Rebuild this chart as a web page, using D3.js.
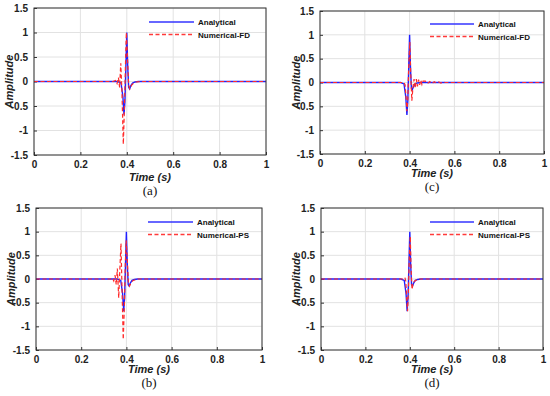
<!DOCTYPE html>
<html>
<head>
<meta charset="utf-8">
<script src="https://cdn.jsdelivr.net/npm/d3@7"></script>
<style>
  body { margin: 0; background: #fff; }
  svg { display: block; }
</style>
</head>
<body>
<svg id="chart"></svg>
<script>
const width = 550
const height = 396

// tick values
const xTicks = [0, 0.2, 0.4, 0.6, 0.8, 1]
const xTickLabels = ['0', '0.2', '0.4', '0.6', '0.8', '1']
const yTicks = [-1.5, -1, -0.5, 0, 0.5, 1, 1.5]
const yTickLabels = ['-1.5', '-1', '-0.5', '0', '0.5', '1', '1.5']

// analytical wavelet (same in all panels)
const tAna = [0, 0.36, 0.375, 0.383, 0.388, 0.392, 0.396, 0.400, 0.404, 0.408, 0.412, 0.418, 0.425, 0.435, 0.45, 1]
const vAna = [0, 0, -0.03, -0.3, -0.68, -0.4, 0.3, 1.0, 0.3, -0.12, -0.15, -0.08, -0.03, -0.01, 0, 0]

// numerical FD, coarse grid (a)
const tFDa = [0, 0.34, 0.352, 0.358, 0.364, 0.369, 0.374, 0.379, 0.385, 0.390, 0.394, 0.398, 0.403, 0.408, 0.413, 0.42, 0.43, 0.44, 0.46, 1]
const vFDa = [0, 0, 0.02, -0.04, 0.08, -0.12, 0.37, -0.2, -1.28, -0.5, 0.3, 1.0, 0.5, -0.08, -0.15, -0.08, -0.03, -0.01, 0, 0]

// numerical PS, coarse grid (b)
const tPSb = [0, 0.33, 0.338, 0.344, 0.35, 0.355, 0.36, 0.366, 0.371, 0.376, 0.381, 0.386, 0.391, 0.395, 0.399, 0.404, 0.409, 0.414, 0.42, 0.43, 0.45, 1]
const vPSb = [0, 0, 0.02, -0.04, 0.08, -0.12, 0.22, -0.4, 0.2, 0.75, -0.3, -1.28, -0.6, 0.3, 0.82, 0.4, -0.1, -0.15, -0.08, -0.03, 0, 0]

// numerical FD, fine grid (c)
const tFDc = [0, 0.375, 0.38, 0.384, 0.388, 0.392, 0.396, 0.401, 0.405, 0.41, 0.415, 0.42, 0.425, 0.43, 0.435, 0.44, 0.445, 0.45, 0.455, 0.46, 0.47, 0.48, 0.49, 0.5, 0.51, 0.52, 0.53, 0.54, 0.55, 0.56, 0.58, 1]
const vFDc = [0, 0, -0.05, -0.3, -0.6, -0.35, 0.3, 0.85, 0.2, -0.38, -0.1, 0.07, -0.12, 0.07, -0.08, 0.06, -0.05, 0.05, -0.04, 0.03, 0.03, -0.02, 0.02, -0.02, 0.015, -0.01, 0.01, -0.01, 0.01, 0, 0, 0]

// numerical PS, fine grid (d)
const tPSd = [0, 0.37, 0.378, 0.382, 0.386, 0.39, 0.394, 0.398, 0.402, 0.406, 0.41, 0.414, 0.42, 0.43, 0.44, 0.46, 1]
const vPSd = [0, 0, 0.03, -0.05, -0.4, -0.68, -0.2, 0.5, 0.9, 0.2, -0.22, -0.12, -0.05, -0.02, 0, 0, 0]

const panels = [
  {id: 'a', box: [34, 8, 266, 155], num: [tFDa, vFDa], name: 'Numerical-FD', leg: [149, 194, 22], ylab: 9, capY: 195, timeY: 181},
  {id: 'c', box: [320, 11, 544, 154], num: [tFDc, vFDc], name: 'Numerical-FD', leg: [430, 474, 24], ylab: 296, capY: 191, timeY: 177},
  {id: 'b', box: [36, 208, 262, 350], num: [tPSb, vPSb], name: 'Numerical-PS', leg: [148, 193, 222], ylab: 11, capY: 387, timeY: 373},
  {id: 'd', box: [321, 208, 543, 350], num: [tPSd, vPSd], name: 'Numerical-PS', leg: [430, 474, 222], ylab: 296, capY: 387, timeY: 373}
]

const sans = 'Arial, "Liberation Sans", sans-serif'
const serif = '"Liberation Serif", "Times New Roman", serif'

const svg = d3.select('#chart')
  .attr('width', width)
  .attr('height', height)

function zip(t, v) {
  return t.map((d, i) => ({t: d, v: v[i]}))
}

panels.forEach(p => {
  const [x0, y0, x1, y1] = p.box
  const x = d3.scaleLinear().domain([0, 1]).range([x0, x1])
  const y = d3.scaleLinear().domain([-1.5, 1.5]).range([y1, y0])
  const g = svg.append('g')

  g.append('clipPath').attr('id', `clip-${p.id}`)
    .append('rect').attr('x', x0).attr('y', y0).attr('width', x1 - x0).attr('height', y1 - y0)

  // grid
  g.append('g').selectAll('line').data(xTicks).join('line')
    .attr('x1', d => x(d)).attr('x2', d => x(d)).attr('y1', y0).attr('y2', y1)
    .attr('stroke', '#e2e2e2').attr('stroke-width', 1)
  g.append('g').selectAll('line').data(yTicks).join('line')
    .attr('x1', x0).attr('x2', x1).attr('y1', d => y(d)).attr('y2', d => y(d))
    .attr('stroke', '#e2e2e2').attr('stroke-width', 1)

  // axes
  const xAxis = g.append('g')
    .attr('transform', `translate(0, ${y1})`)
    .call(d3.axisBottom(x).tickValues(xTicks).tickFormat((d, i) => xTickLabels[i]).tickSizeInner(-3).tickSizeOuter(0).tickPadding(6))
  const yAxis = g.append('g')
    .attr('transform', `translate(${x0}, 0)`)
    .call(d3.axisLeft(y).tickValues(yTicks).tickFormat((d, i) => yTickLabels[i]).tickSizeInner(-3).tickSizeOuter(0).tickPadding(6))
  ;[xAxis, yAxis].forEach(a => {
    a.selectAll('path').remove()
    a.selectAll('line').attr('stroke', '#333')
    a.selectAll('text').style('font-family', sans).attr('font-size', 10).attr('font-weight', 'bold').attr('fill', '#222')
  })

  // lines
  const line = d3.line().x(d => x(d.t)).y(d => y(d.v))
  const plot = g.append('g').attr('clip-path', `url(#clip-${p.id})`)
  plot.append('path')
    .attr('d', line(zip(tAna, vAna)))
    .attr('fill', 'none').attr('stroke', '#2020ff').attr('stroke-width', 1.4)
  plot.append('path')
    .attr('d', line(zip(p.num[0], p.num[1])))
    .attr('fill', 'none').attr('stroke', '#ff2a2a').attr('stroke-width', 1.2)
    .attr('stroke-dasharray', '4,2.5')

  // box
  g.append('rect')
    .attr('x', x0).attr('y', y0).attr('width', x1 - x0).attr('height', y1 - y0)
    .attr('fill', 'none').attr('stroke', '#333').attr('stroke-width', 1)

  // legend
  const [lx0, lx1, ly] = p.leg
  g.append('line').attr('x1', lx0).attr('x2', lx1).attr('y1', ly).attr('y2', ly)
    .attr('stroke', '#3535ff').attr('stroke-width', 1.6)
  g.append('line').attr('x1', lx0).attr('x2', lx1).attr('y1', ly + 12.5).attr('y2', ly + 12.5)
    .attr('stroke', '#ff3a3a').attr('stroke-width', 1.3).attr('stroke-dasharray', '4,2.5')
  g.append('text').attr('x', lx1 + 4).attr('y', ly + 3)
    .style('font-family', sans)
    .attr('font-size', 8).attr('font-weight', 'bold').attr('fill', '#111').text('Analytical')
  g.append('text').attr('x', lx1 + 4).attr('y', ly + 15.5)
    .style('font-family', sans)
    .attr('font-size', 8).attr('font-weight', 'bold').attr('fill', '#111').text(p.name)

  // axis titles
  g.append('text')
    .attr('transform', `translate(${p.ylab}, ${(y0 + y1) / 2}) rotate(-90)`)
    .attr('dy', '0.35em')
    .attr('text-anchor', 'middle')
    .style('font-family', sans)
    .attr('font-size', 11).attr('font-weight', 'bold').attr('font-style', 'italic').attr('fill', '#222')
    .text('Amplitude')
  g.append('text')
    .attr('x', (x0 + x1) / 2).attr('y', p.timeY)
    .attr('text-anchor', 'middle')
    .style('font-family', sans)
    .attr('font-size', 11).attr('font-weight', 'bold').attr('font-style', 'italic').attr('fill', '#222')
    .text('Time (s)')

  // panel caption
  g.append('text')
    .attr('x', (x0 + x1) / 2).attr('y', p.capY)
    .attr('text-anchor', 'middle')
    .style('font-family', serif)
    .attr('font-size', 13).attr('fill', '#111')
    .text(`(${p.id})`)
})
</script>
</body>
</html>
